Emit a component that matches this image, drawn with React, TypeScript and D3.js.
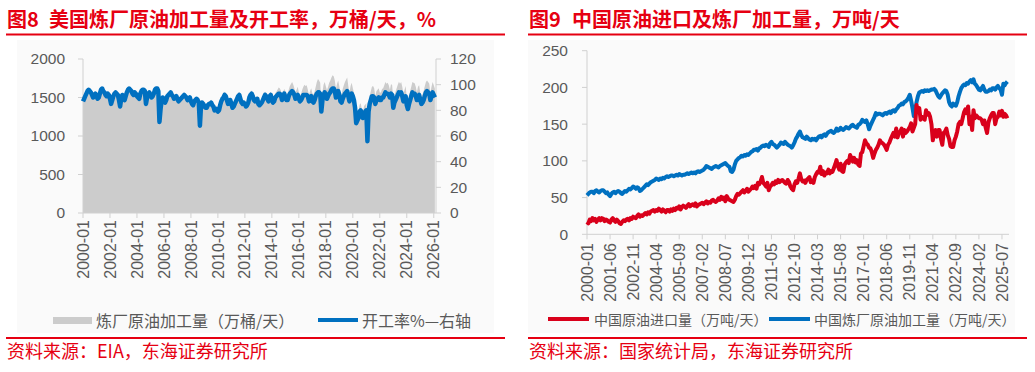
import * as d3 from 'd3';

const RED = '#e60012';
const BLUE = '#0070c0';
const LINE_RED = '#d9001b';
const AREA_GRAY = '#cccccc';
const AXIS = '#d0d0d0';
const LABEL = '#595959';
const FONT = '"Liberation Sans", Arial, "Noto Sans CJK SC", sans-serif';
const CJK = '"Noto Sans CJK SC", "Liberation Sans", sans-serif';

// 图8: US refinery crude runs (万桶/天) and utilization (%), monthly 2000-01 .. 2026-02
const usThroughput = [
  1470, 1505, 1540, 1570, 1605, 1620, 1605, 1590, 1555, 1520, 1555, 1570,
  1540, 1505, 1520, 1570, 1620, 1640, 1605, 1590, 1555, 1540, 1570, 1555,
  1505, 1435, 1485, 1540, 1570, 1590, 1570, 1555, 1485, 1405, 1505, 1555,
  1520, 1485, 1540, 1590, 1620, 1640, 1620, 1605, 1570, 1555, 1590, 1570,
  1540, 1520, 1505, 1570, 1605, 1620, 1620, 1605, 1435, 1520, 1570, 1590,
  1555, 1520, 1540, 1570, 1620, 1640, 1640, 1605, 1200, 1370, 1485, 1520,
  1485, 1455, 1485, 1540, 1555, 1570, 1590, 1555, 1540, 1505, 1520, 1540,
  1505, 1470, 1485, 1505, 1520, 1540, 1555, 1540, 1520, 1485, 1505, 1520,
  1470, 1435, 1420, 1470, 1485, 1505, 1485, 1455, 1150, 1420, 1455, 1435,
  1420, 1400, 1400, 1435, 1455, 1455, 1470, 1435, 1420, 1370, 1385, 1385,
  1350, 1370, 1435, 1490, 1520, 1540, 1575, 1555, 1505, 1455, 1470, 1505,
  1455, 1400, 1420, 1455, 1490, 1520, 1555, 1575, 1520, 1470, 1455, 1470,
  1455, 1420, 1435, 1470, 1540, 1575, 1590, 1555, 1505, 1490, 1505, 1520,
  1455, 1435, 1455, 1470, 1505, 1540, 1575, 1555, 1520, 1490, 1555, 1575,
  1520, 1490, 1505, 1555, 1575, 1600, 1630, 1620, 1590, 1520, 1575, 1610,
  1585, 1550, 1550, 1600, 1650, 1675, 1700, 1670, 1620, 1565, 1600, 1640,
  1565, 1530, 1550, 1600, 1640, 1665, 1650, 1660, 1600, 1530, 1585, 1620,
  1555, 1540, 1575, 1640, 1700, 1740, 1720, 1690, 1415, 1575, 1665, 1700,
  1645, 1595, 1640, 1690, 1720, 1760, 1790, 1775, 1720, 1610, 1680, 1720,
  1645, 1555, 1540, 1610, 1660, 1700, 1730, 1760, 1650, 1555, 1650, 1690,
  1620, 1565, 1460, 1245, 1280, 1315, 1405, 1425, 1355, 1315, 1390, 1405,
  1425, 1000, 1405, 1515, 1580, 1640, 1650, 1620, 1515, 1580, 1600, 1620,
  1565, 1565, 1610, 1620, 1660, 1700, 1680, 1690, 1660, 1600, 1675, 1660,
  1460, 1530, 1575, 1620, 1665, 1705, 1680, 1700, 1640, 1550, 1600, 1650,
  1495, 1440, 1525, 1585, 1640, 1700, 1690, 1685, 1640, 1565, 1640, 1660,
  1565, 1515, 1540, 1585, 1645, 1700, 1720, 1700, 1680, 1565, 1640, 1700,
  1660, 1615,
];

const usUtilization = [
  87, 89, 91, 93, 95, 96, 95, 94, 92, 90, 92, 93,
  91, 89, 90, 93, 96, 97, 95, 94, 92, 91, 93, 92,
  89, 85, 88, 91, 93, 94, 93, 92, 88, 83, 89, 92,
  90, 88, 91, 94, 96, 97, 96, 95, 93, 92, 94, 93,
  91, 90, 89, 93, 95, 96, 96, 95, 85, 90, 93, 94,
  92, 90, 91, 93, 96, 97, 97, 95, 71, 81, 88, 90,
  88, 86, 88, 91, 92, 93, 94, 92, 91, 89, 90, 91,
  89, 87, 88, 89, 90, 91, 92, 91, 90, 88, 89, 90,
  87, 85, 84, 87, 88, 89, 88, 86, 68, 84, 86, 85,
  83, 82, 82, 84, 85, 85, 86, 84, 83, 80, 81, 81,
  79, 80, 84, 87, 89, 90, 92, 91, 88, 85, 86, 88,
  85, 82, 83, 85, 87, 89, 91, 92, 89, 86, 85, 86,
  85, 83, 84, 86, 90, 92, 93, 91, 88, 87, 88, 89,
  85, 84, 85, 86, 88, 90, 92, 91, 89, 87, 91, 92,
  88, 86, 87, 90, 91, 92, 93, 93, 92, 88, 91, 93,
  90, 88, 88, 91, 93, 94, 95, 94, 92, 89, 91, 92,
  89, 87, 88, 90, 92, 92, 92, 92, 91, 87, 90, 91,
  87, 86, 88, 91, 93, 94, 94, 93, 79, 88, 92, 94,
  92, 89, 91, 93, 94, 96, 97, 97, 95, 90, 93, 95,
  92, 87, 86, 89, 91, 93, 94, 95, 91, 87, 91, 93,
  91, 88, 82, 70, 72, 74, 79, 80, 76, 74, 78, 79,
  80, 56, 79, 85, 88, 91, 91, 90, 85, 88, 89, 90,
  88, 88, 90, 90, 92, 94, 93, 93, 92, 90, 93, 92,
  82, 86, 88, 90, 92, 94, 93, 94, 91, 87, 89, 91,
  84, 81, 85, 88, 91, 94, 93, 93, 91, 88, 91, 92,
  88, 85, 86, 88, 91, 94, 95, 94, 93, 88, 91, 94,
  92, 90,
];

const usTickLabels = [
  '2000-01', '2002-01', '2004-01', '2006-01', '2008-01', '2010-01', '2012-01',
  '2014-01', '2016-01', '2018-01', '2020-01', '2022-01', '2024-01', '2026-01',
];

// 图9: China crude imports and refinery runs (万吨/天), monthly 2000-01 .. 2025-11
const cnImports = [
  17, 15, 20, 18, 22, 19, 21, 17, 20, 22, 19, 22,
  21, 18, 20, 19, 17, 16, 20, 22, 19, 17, 20, 18,
  15, 14, 17, 19, 18, 20, 21, 19, 22, 21, 24, 23,
  22, 25, 27, 24, 26, 25, 27, 29, 27, 30, 28, 31,
  32, 33, 31, 33, 32, 35, 33, 31, 34, 32, 30, 33,
  33, 31, 34, 32, 35, 33, 36, 35, 38, 34, 37, 39,
  38, 36, 39, 41, 38, 40, 41, 39, 42, 38, 40, 41,
  42, 43, 41, 43, 45, 42, 44, 43, 46, 47, 45, 44,
  46, 49, 47, 51, 48, 50, 45, 52, 49, 47, 46, 45,
  44, 47, 52, 55, 54, 56, 58, 60, 57, 59, 62, 58,
  60, 62, 65, 63, 66, 62, 70, 68, 72, 78, 70, 68,
  65, 70, 60, 65, 67, 70, 68, 72, 70, 74, 71, 73,
  74, 72, 70, 69, 74, 71, 65, 62, 60, 68, 72, 70,
  76, 83, 75, 72, 73, 70, 74, 76, 78, 71, 73, 70,
  78, 82, 85, 84, 92, 82, 86, 80, 84, 83, 88, 83,
  86, 85, 90, 95, 101, 93, 88, 96, 86, 85, 95, 98,
  100, 97, 108, 104, 99, 104, 98, 101, 95, 93, 110, 112,
  120, 128, 124, 122, 118, 117, 112, 104, 110, 115, 118, 122,
  128, 125, 124, 122, 119, 115, 122, 125, 130, 134, 138, 133,
  144, 132, 138, 140, 144, 133, 142, 138, 140, 143, 146, 151,
  140, 145, 150, 176, 168, 172, 156, 160, 158, 156, 169, 163,
  165, 160, 150, 128, 138, 142, 133, 142, 142, 130, 122, 138,
  140, 144, 135, 130, 120, 119, 119, 128, 133, 140, 150, 153,
  150, 158, 166, 170, 165, 174, 150, 160, 142, 169, 158, 162,
  160, 158, 158, 156, 150, 155, 145, 138, 152, 158, 162, 165,
  165, 150, 158, 160, 167, 162, 168, 160, 164, 162, 158,
];

const cnRefining = [
  53, 55, 57, 58, 58, 56, 59, 60, 58, 57, 59, 60,
  60, 58, 56, 57, 54, 52, 55, 57, 58, 56, 58, 59,
  58, 56, 55, 57, 59, 58, 60, 62, 61, 63, 65, 64,
  62, 64, 63, 59, 60, 62, 64, 66, 68, 67, 69, 71,
  72, 73, 74, 76, 75, 74, 76, 75, 77, 76, 78, 79,
  78, 79, 80, 80, 79, 80, 81, 80, 82, 81, 80, 81,
  81, 82, 83, 82, 83, 84, 83, 84, 83, 85, 86, 85,
  86, 87, 88, 90, 93, 92, 91, 90, 89, 91, 92, 93,
  92, 91, 93, 94, 95, 96, 97, 95, 93, 92, 86, 85,
  88, 95, 100, 102, 104, 105, 107, 106, 108, 107, 109, 108,
  110, 112, 113, 115, 115, 116, 114, 117, 118, 120, 121, 120,
  122, 121, 119, 124, 126, 123, 122, 120, 118, 120, 122, 125,
  124, 123, 126, 124, 122, 121, 120, 118, 121, 125, 130, 133,
  137, 140, 135, 132, 131, 130, 133, 131, 129, 128, 130, 129,
  130, 128, 131, 133, 134, 132, 135, 136, 134, 137, 139, 140,
  141, 139, 138, 140, 144, 141, 142, 145, 143, 142, 144, 146,
  145, 144, 146, 148, 149, 147, 146, 145, 149, 150, 152, 156,
  154, 153, 155, 150, 143, 148, 152, 156, 160, 165, 163, 164,
  164, 163, 162, 164, 165, 164, 166, 167, 165, 168, 169, 167,
  170, 172, 175, 176, 178, 177, 180, 181, 183, 186, 190, 182,
  172, 161, 168, 180, 188, 193, 194, 195, 194, 196, 195, 196,
  195, 196, 197, 197, 198, 196, 192, 188, 186, 189, 192, 194,
  196, 195, 190, 180, 176, 174, 178, 176, 175, 180, 188, 194,
  199, 202, 204, 203, 206, 205, 208, 210, 207, 211, 205, 203,
  200, 197, 196, 199, 202, 197, 194, 194, 195, 197, 196, 199,
  199, 197, 200, 202, 199, 197, 190, 205, 203, 206, 208,
];

const cnTickLabels = [
  '2000-01', '2001-06', '2002-11', '2004-04', '2005-09', '2007-02', '2008-07',
  '2009-12', '2011-05', '2012-10', '2014-03', '2015-08', '2017-01', '2018-06',
  '2019-11', '2021-04', '2022-09', '2024-02', '2025-07',
];

const UsChart = () => {
  const x = d3.scaleLinear().domain([0, 314]).range([83, 436]);
  const yL = d3.scaleLinear().domain([0, 2000]).range([213, 59]);
  const yR = d3.scaleLinear().domain([0, 120]).range([213, 59]);

  const area = d3.area<number>()
    .x((_, i) => x(i))
    .y0(yL(0))
    .y1(d => yL(d));
  const line = d3.line<number>()
    .x((_, i) => x(i))
    .y(d => yR(d));

  return (
    <g>
      <rect x={17} y={40} width={477} height={293} fill="#fafafa" />
      <text x={7} y={27} fill={RED} fontFamily={CJK} fontWeight="bold" fontSize={20}>图8</text>
      <text x={49} y={27} fill={RED} fontFamily={CJK} fontWeight="bold" fontSize={20}>美国炼厂原油加工量及开工率，万桶/天，%</text>
      <rect x={6} y={33.5} width={499} height={2} fill={RED} />

      <path d={area(usThroughput) ?? ''} fill={AREA_GRAY} />

      {/* axes */}
      <line x1={83} x2={83} y1={yL(2000)} y2={yL(0)} stroke={AXIS} />
      <line x1={436} x2={436} y1={yR(120)} y2={yR(0)} stroke={AXIS} />
      <line x1={83} x2={436} y1={213} y2={213} stroke={AXIS} />
      {yL.ticks(5).map(t => (
        <g key={`l${t}`}>
          <line x1={78} x2={83} y1={yL(t)} y2={yL(t)} stroke={AXIS} />
          <text x={65} y={yL(t)} dy="0.35em" textAnchor="end" fill={LABEL} fontFamily={FONT} fontSize={15.5}>{t}</text>
        </g>
      ))}
      {yR.ticks(6).map(t => (
        <g key={`r${t}`}>
          <line x1={436} x2={441} y1={yR(t)} y2={yR(t)} stroke={AXIS} />
          <text x={450} y={yR(t)} dy="0.35em" fill={LABEL} fontFamily={FONT} fontSize={15.5}>{t}</text>
        </g>
      ))}
      {usTickLabels.map((lab, k) => {
        const px = x(k * 24);
        return (
          <g key={lab}>
            <line x1={px} x2={px} y1={213} y2={218} stroke={AXIS} />
            <text transform={`translate(${px},${220}) rotate(-90)`} dy="0.35em" textAnchor="end"
              fill={LABEL} fontFamily={FONT} fontSize={16}>{lab}</text>
          </g>
        );
      })}

      <path d={line(usUtilization) ?? ''} fill="none" stroke={BLUE} strokeWidth={4.5} strokeLinejoin="round" />

      {/* legend */}
      <rect x={53} y={317} width={39} height={7} fill={AREA_GRAY} />
      <text x={96} y={321} dy="0.35em" fill={LABEL} fontFamily={CJK} fontSize={16}>炼厂原油加工量（万桶/天）</text>
      <line x1={318} x2={358} y1={320} y2={320} stroke={BLUE} strokeWidth={4} />
      <text x={362} y={321} dy="0.35em" fill={LABEL} fontFamily={CJK} fontSize={16}>开工率%—右轴</text>

      <rect x={6} y={337} width={499} height={2} fill={RED} />
      <text x={7} y={358} fill={RED} fontFamily={CJK} fontSize={18}>资料来源：EIA，东海证券研究所</text>
    </g>
  );
};

const CnChart = () => {
  const x = d3.scaleLinear().domain([0, 310]).range([587, 1007.4]);
  const y = d3.scaleLinear().domain([0, 250]).range([234.3, 50.7]);
  const line = d3.line<number>()
    .x((_, i) => x(i))
    .y(d => y(d));

  return (
    <g>
      <rect x={528} y={40} width={487} height={293} fill="#fafafa" />
      <text x={529} y={27} fill={RED} fontFamily={CJK} fontWeight="bold" fontSize={20}>图9</text>
      <text x={572} y={27} fill={RED} fontFamily={CJK} fontWeight="bold" fontSize={20}>中国原油进口及炼厂加工量，万吨/天</text>
      <rect x={528} y={33.5} width={499} height={2} fill={RED} />

      <line x1={587} x2={587} y1={y(250)} y2={y(0)} stroke={AXIS} />
      <line x1={587} x2={1009} y1={y(0)} y2={y(0)} stroke={AXIS} />
      {y.ticks(5).map(t => (
        <g key={`c${t}`}>
          <line x1={582} x2={587} y1={y(t)} y2={y(t)} stroke={AXIS} />
          <text x={568} y={y(t)} dy="0.35em" textAnchor="end" fill={LABEL} fontFamily={FONT} fontSize={15.5}>{t}</text>
        </g>
      ))}
      {cnTickLabels.map((lab, k) => {
        const px = x(k * 17);
        return (
          <g key={lab}>
            <line x1={px} x2={px} y1={y(0)} y2={y(0) + 5} stroke={AXIS} />
            <text transform={`translate(${px},${243}) rotate(-90)`} dy="0.35em" textAnchor="end"
              fill={LABEL} fontFamily={FONT} fontSize={16}>{lab}</text>
          </g>
        );
      })}

      <path d={line(cnRefining) ?? ''} fill="none" stroke={BLUE} strokeWidth={4} strokeLinejoin="round" />
      <path d={line(cnImports) ?? ''} fill="none" stroke={LINE_RED} strokeWidth={4} strokeLinejoin="round" />

      {/* legend */}
      <line x1={548} x2={589} y1={319} y2={319} stroke={LINE_RED} strokeWidth={4} />
      <text x={594} y={320} dy="0.35em" fill={LABEL} fontFamily={CJK} fontSize={14}>中国原油进口量（万吨/天）</text>
      <line x1={769} x2={810} y1={319} y2={319} stroke={BLUE} strokeWidth={4} />
      <text x={814} y={320} dy="0.35em" fill={LABEL} fontFamily={CJK} fontSize={14}>中国炼厂原油加工量（万吨/天）</text>

      <rect x={528} y={337} width={499} height={2} fill={RED} />
      <text x={529} y={358} fill={RED} fontFamily={CJK} fontSize={18}>资料来源：国家统计局，东海证券研究所</text>
    </g>
  );
};

export default function App() {
  return (
    <svg width={1035} height={372} style={{ position: 'absolute', left: 0, top: 0, background: '#fff' }}>
      <UsChart />
      <CnChart />
    </svg>
  );
}
